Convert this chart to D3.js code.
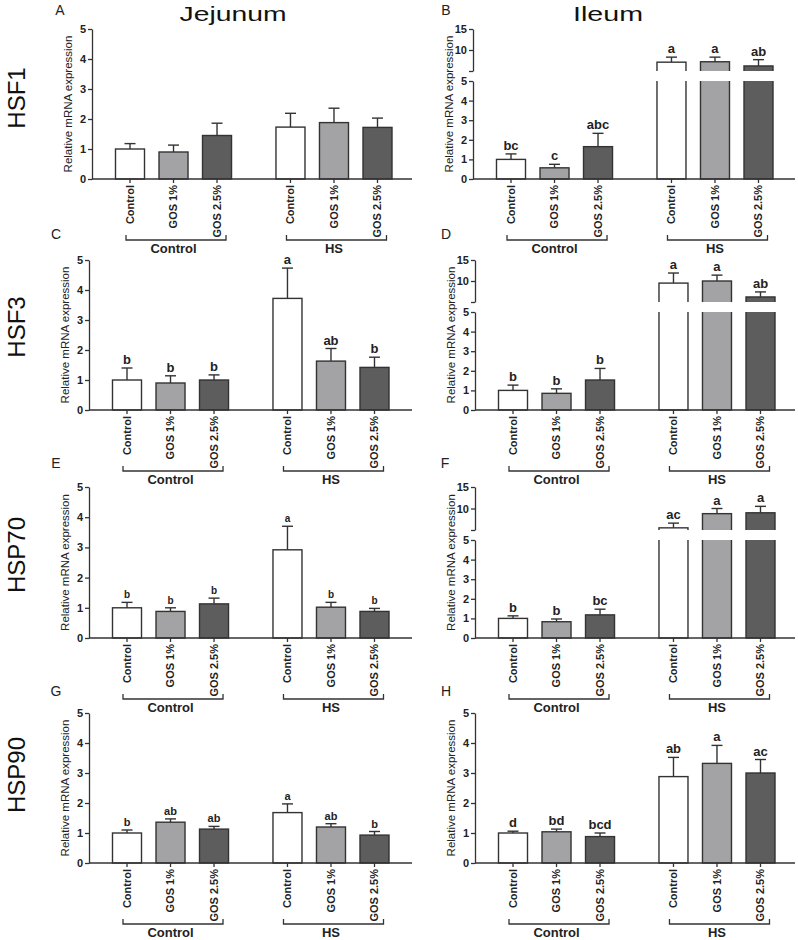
<!DOCTYPE html>
<html><head><meta charset="utf-8">
<script src="https://cdn.jsdelivr.net/npm/d3@7"></script>
<style>body{margin:0;background:#fff;} svg{display:block;} text{font-family:"Liberation Sans",Arial,Helvetica,sans-serif;}</style>
</head><body><svg id="chart" width="798" height="940"></svg>
<script>
// ---------------- data ----------------
const treatments = ["Control", "GOS 1%", "GOS 2.5%"];
const groups = ["Control", "HS"];
const genes = ["HSF1", "HSF3", "HSP70", "HSP90"];
const tissues = ["Jejunum", "Ileum"];
const panelLetters = ["A", "B", "C", "D", "E", "F", "G", "H"];
const lowTicks = [0, 1, 2, 3, 4, 5];
const highTicks = [10, 15];

// order: Control/Control, Control/GOS1, Control/GOS2.5, HS/Control, HS/GOS1, HS/GOS2.5
const meansA = [1.00, 0.90, 1.45, 1.73, 1.88, 1.72];
const semA   = [0.18, 0.23, 0.41, 0.46, 0.48, 0.31];
const lettersA = ["", "", "", "", "", ""];

const meansB = [1.00, 0.57, 1.65, 7.1, 7.2, 6.2];
const semB   = [0.28, 0.18, 0.68, 1.2, 1.1, 1.5];
const lettersB = ["bc", "c", "abc", "a", "a", "ab"];

const meansC = [1.00, 0.90, 1.00, 3.72, 1.63, 1.42];
const semC   = [0.40, 0.24, 0.17, 1.01, 0.42, 0.34];
const lettersC = ["b", "b", "b", "a", "ab", "b"];

const meansD = [1.00, 0.85, 1.53, 9.5, 10.0, 6.2];
const semD   = [0.27, 0.23, 0.59, 2.4, 1.4, 1.2];
const lettersD = ["b", "b", "b", "a", "a", "ab"];

const meansE = [1.00, 0.88, 1.13, 2.92, 1.02, 0.88];
const semE   = [0.18, 0.12, 0.19, 0.78, 0.16, 0.10];
const lettersE = ["b", "b", "b", "a", "b", "b"];

const meansF = [1.00, 0.83, 1.18, 5.5, 8.8, 9.0];
const semF   = [0.13, 0.14, 0.29, 1.1, 1.2, 1.5];
const lettersF = ["b", "b", "bc", "ac", "a", "a"];

const meansG = [1.00, 1.36, 1.13, 1.68, 1.20, 0.93];
const semG   = [0.10, 0.11, 0.09, 0.29, 0.11, 0.12];
const lettersG = ["b", "ab", "ab", "a", "ab", "b"];

const meansH = [1.00, 1.04, 0.88, 2.88, 3.32, 3.00];
const semH   = [0.06, 0.09, 0.12, 0.64, 0.60, 0.45];
const lettersH = ["d", "bd", "bcd", "ab", "a", "ac"];

// ---------------- layout ----------------
const svg = d3.select("#chart");
const fills = d3.scaleOrdinal().domain(treatments).range(["#ffffff", "#a3a3a5", "#5d5d5d"]);
const ink = "#333333";
const rowZero = [179, 410, 638, 863];
const rowTop = [29, 260, 487, 713];
const rowLabelY = [98, 327, 555, 775];

const panels = [
  {m: meansA, s: semA, l: lettersA, row: 0, col: 0, broken: false, ls: 13},
  {m: meansB, s: semB, l: lettersB, row: 0, col: 1, broken: true,  ls: 13},
  {m: meansC, s: semC, l: lettersC, row: 1, col: 0, broken: false, ls: 13},
  {m: meansD, s: semD, l: lettersD, row: 1, col: 1, broken: true,  ls: 13},
  {m: meansE, s: semE, l: lettersE, row: 2, col: 0, broken: false, ls: 10},
  {m: meansF, s: semF, l: lettersF, row: 2, col: 1, broken: true,  ls: 13},
  {m: meansG, s: semG, l: lettersG, row: 3, col: 0, broken: false, ls: 11},
  {m: meansH, s: semH, l: lettersH, row: 3, col: 1, broken: false, ls: 13}
];
const letterPos = [[60, 15], [446, 15], [56, 239], [446, 239], [56, 468], [445, 468], [56, 696], [446, 696]];

function styleAxis(sel) {
  sel.select(".domain").attr("stroke", ink).attr("stroke-width", 1.3);
  sel.selectAll(".tick line").attr("stroke", ink).attr("stroke-width", 1.3);
  sel.selectAll(".tick text").attr("fill", "#222").attr("font-size", 11).attr("font-weight", "bold")
    .attr("font-family", '"Liberation Sans",Arial,sans-serif');
}

panels.forEach((p, idx) => {
  const ax = p.col === 0 ? (p.row === 0 ? 92 : 89) : (p.row === 0 ? 473 : 475);
  const xEnd = p.col === 0 ? 412 : 795;
  const zero = rowZero[p.row], top = rowTop[p.row];
  const g = svg.append("g");

  const xg = d3.scaleBand().domain(groups).range([ax + 23.5, ax + 300]).paddingInner(0.277).paddingOuter(0);
  const xt = d3.scaleBand().domain(treatments).range([0, xg.bandwidth()]).paddingInner(1 / 3).paddingOuter(0);
  const bw = xt.bandwidth();

  const data = p.m.map((v, i) => ({
    group: groups[Math.floor(i / 3)], trt: treatments[i % 3],
    mean: v, sem: p.s[i], letter: p.l[i]
  }));
  data.forEach(d => { d.x = xg(d.group) + xt(d.trt); d.cx = d.x + bw / 2; });

  let yLow, yHigh = null;
  if (p.broken) {
    yLow = d3.scaleLinear().domain([0, 5]).range([zero, zero - 98]);
    yHigh = d3.scaleLinear().domain([5, 15]).range([zero - 108, top]);
  } else {
    yLow = d3.scaleLinear().domain([0, 5]).range([zero, top]);
  }
  const yOf = v => (p.broken && v > 5) ? yHigh(v) : yLow(v);

  // bars
  if (p.broken) {
    const cidL = "clipL" + idx, cidH = "clipH" + idx;
    const defs = svg.append("defs");
    defs.append("clipPath").attr("id", cidL).append("rect")
      .attr("x", ax).attr("y", yLow(5)).attr("width", xEnd - ax).attr("height", zero - yLow(5) + 5);
    defs.append("clipPath").attr("id", cidH).append("rect")
      .attr("x", ax).attr("y", top - 30).attr("width", xEnd - ax).attr("height", yHigh(5) - top + 30);
    g.append("g").attr("clip-path", `url(#${cidL})`).selectAll("rect").data(data).join("rect")
      .attr("x", d => d.x).attr("width", bw)
      .attr("y", d => yLow(Math.min(d.mean, 5.3)))
      .attr("height", d => zero - yLow(Math.min(d.mean, 5.3)))
      .attr("fill", d => fills(d.trt)).attr("stroke", ink).attr("stroke-width", 1.4);
    g.append("g").attr("clip-path", `url(#${cidH})`).selectAll("rect").data(data.filter(d => d.mean > 5)).join("rect")
      .attr("x", d => d.x).attr("width", bw)
      .attr("y", d => yHigh(d.mean))
      .attr("height", d => yHigh(5) + 6 - yHigh(d.mean))
      .attr("fill", d => fills(d.trt)).attr("stroke", ink).attr("stroke-width", 1.4);
  } else {
    g.append("g").selectAll("rect").data(data).join("rect")
      .attr("x", d => d.x).attr("width", bw)
      .attr("y", d => yLow(d.mean)).attr("height", d => zero - yLow(d.mean))
      .attr("fill", d => fills(d.trt)).attr("stroke", ink).attr("stroke-width", 1.4);
  }

  // error bars (upper only)
  const eb = g.append("g").attr("stroke", ink).attr("stroke-width", 1.4);
  data.forEach(d => {
    const y0 = yOf(d.mean), y1 = yOf(d.mean + d.sem);
    eb.append("line").attr("x1", d.cx).attr("x2", d.cx).attr("y1", y0).attr("y2", y1);
    eb.append("line").attr("x1", d.cx - 5.5).attr("x2", d.cx + 5.5).attr("y1", y1).attr("y2", y1);
  });
  // significance letters
  g.append("g").selectAll("text").data(data.filter(d => d.letter)).join("text")
    .attr("x", d => d.cx).attr("y", d => yOf(d.mean + d.sem) - 4)
    .attr("text-anchor", "middle").attr("font-size", p.ls).attr("font-weight", "bold").attr("fill", "#222")
    .text(d => d.letter);

  // y axes
  const la = g.append("g").attr("transform", `translate(${ax},0)`)
    .call(d3.axisLeft(yLow).tickValues(lowTicks).tickSize(4).tickSizeOuter(0).tickPadding(2).tickFormat(d3.format("d")));
  styleAxis(la);
  if (p.broken) {
    const ha = g.append("g").attr("transform", `translate(${ax},0)`)
      .call(d3.axisLeft(yHigh).tickValues([5].concat(highTicks)).tickSize(4).tickSizeOuter(0).tickPadding(2)
        .tickFormat(v => v === 5 ? "" : d3.format("d")(v)));
    styleAxis(ha);
  }

  // x axis
  g.append("line").attr("x1", ax).attr("x2", xEnd).attr("y1", zero).attr("y2", zero)
    .attr("stroke", ink).attr("stroke-width", 1.3);
  g.append("g").selectAll("line").data(data).join("line")
    .attr("x1", d => d.cx).attr("x2", d => d.cx).attr("y1", zero).attr("y2", zero + 4)
    .attr("stroke", ink).attr("stroke-width", 1.3);
  g.append("g").selectAll("text").data(data).join("text")
    .attr("transform", d => `translate(${d.cx},${zero + 6}) rotate(-90)`)
    .attr("text-anchor", "end").attr("dy", "0.35em")
    .attr("font-size", 11).attr("font-weight", "bold").attr("fill", "#222")
    .text(d => d.trt);

  // group brackets
  groups.forEach(gr => {
    const first = xg(gr) + xt(treatments[0]) + bw / 2;
    const mid = xg(gr) + xt(treatments[1]) + bw / 2;
    const last = xg(gr) + xt(treatments[2]) + bw / 2;
    const by = zero + 61;
    g.append("path").attr("d", `M${first - 4},${by - 5}V${by}H${last + 9}V${by - 5}`)
      .attr("fill", "none").attr("stroke", ink).attr("stroke-width", 1.3);
    g.append("text").attr("x", mid).attr("y", zero + 74).attr("text-anchor", "middle")
      .attr("font-size", 13).attr("font-weight", "bold").attr("fill", "#222").text(gr);
  });

  // y title
  const midY = (zero + top) / 2;
  g.append("text").attr("transform", `translate(${ax - 20},${midY}) rotate(-90)`)
    .attr("text-anchor", "middle").attr("font-size", 11.5).attr("fill", "#222")
    .text("Relative mRNA expression");

  // panel letter
  g.append("text").attr("x", letterPos[idx][0]).attr("y", letterPos[idx][1]).attr("text-anchor", "middle")
    .attr("font-size", 14).attr("fill", "#222").text(panelLetters[idx]);
});

// column titles
svg.append("text").attr("x", 233).attr("y", 21).attr("text-anchor", "middle").attr("font-size", 21)
  .attr("textLength", 107).attr("lengthAdjust", "spacingAndGlyphs").attr("fill", "#111").text(tissues[0]);
svg.append("text").attr("x", 608).attr("y", 21).attr("text-anchor", "middle").attr("font-size", 21)
  .attr("textLength", 70).attr("lengthAdjust", "spacingAndGlyphs").attr("fill", "#111").text(tissues[1]);

// row labels
genes.forEach((gn, i) => {
  svg.append("text").attr("transform", `translate(25,${rowLabelY[i]}) rotate(-90)`)
    .attr("text-anchor", "middle").attr("font-size", 24).attr("fill", "#111").text(gn);
});
</script>
</body></html>
